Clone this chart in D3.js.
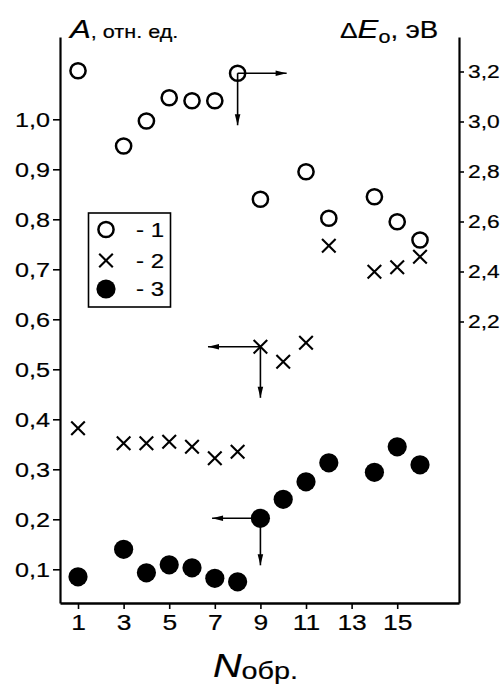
<!DOCTYPE html>
<html><head><meta charset="utf-8">
<script src="https://cdn.jsdelivr.net/npm/d3@7/dist/d3.min.js"></script>
<style>body{margin:0;background:#fff}svg{display:block}</style>
</head><body>
<script>
// ---- data ----
const xTicks = [1, 3, 5, 7, 9, 11, 13, 15];
const leftTicks = [0.1, 0.2, 0.3, 0.4, 0.5, 0.6, 0.7, 0.8, 0.9, 1.0];
const rightTicks = [2.2, 2.4, 2.6, 2.8, 3.0, 3.2];
const s1N = [1, 3, 4, 5, 6, 7, 8, 9, 11, 12, 14, 15, 16];
const s1Val = [3.203, 2.902, 3.002, 3.095, 3.083, 3.083, 3.193, 2.689, 2.799, 2.613, 2.699, 2.599, 2.526];
const s2N = [1, 3, 4, 5, 6, 7, 8, 9, 10, 11, 12, 14, 15, 16];
const s2Val = [0.382, 0.352, 0.352, 0.355, 0.345, 0.322, 0.335, 0.545, 0.515, 0.553, 0.747, 0.695, 0.704, 0.725];
const s3N = [1, 3, 4, 5, 6, 7, 8, 9, 10, 11, 12, 14, 15, 16];
const s3Val = [0.085, 0.14, 0.093, 0.109, 0.103, 0.082, 0.075, 0.202, 0.24, 0.275, 0.313, 0.294, 0.345, 0.309];
const legendLabels = ["- 1", "- 2", "- 3"];
// arrows: from point (n, v) on axis to end (n2, v2)
const arrows = [
  {axis: "R", n: 8, v: 3.193, n2: 10.15, v2: 3.193},
  {axis: "R", n: 8, v: 3.193, n2: 8, v2: 2.985},
  {axis: "L", n: 9, v: 0.545, n2: 6.7, v2: 0.545},
  {axis: "L", n: 9, v: 0.545, n2: 9, v2: 0.443},
  {axis: "L", n: 9, v: 0.202, n2: 6.88, v2: 0.202},
  {axis: "L", n: 9, v: 0.202, n2: 9, v2: 0.108}
];

const W = 503, H = 687;
const SX = 1.2; // horizontal stretch of lettering
const FONT = "'Liberation Sans', Arial, Helvetica, sans-serif";
const TSTROKE = 0.2;
const svg = d3.select("body").append("svg").attr("width", W).attr("height", H);

const x = d3.scaleLinear().domain([0.21, 17.71]).range([60, 459]);
const yL = d3.scaleLinear().domain([0.0326, 1.1646]).range([603, 37]);
const yR = d3.scaleLinear().domain([1.074, 3.338]).range([603, 37]);
const fmt = v => d3.format(".1f")(v).replace(".", ",");

function styleAxis(g, fs) {
  g.select(".domain").attr("stroke", "#000").attr("stroke-width", 2.2);
  g.selectAll(".tick line").attr("stroke", "#000").attr("stroke-width", 1.6);
  g.selectAll(".tick text").attr("fill", "#000").attr("font-family", FONT).attr("font-size", fs)
    .attr("stroke", "#000").attr("stroke-width", TSTROKE);
}

// left axis
const gL = svg.append("g").attr("transform", "translate(60,0)")
  .call(d3.axisLeft(yL).tickValues(leftTicks).tickFormat(fmt).tickSize(7).tickSizeOuter(0).tickPadding(3));
styleAxis(gL, 21);
gL.selectAll(".tick text").each(function() {
  const t = d3.select(this); const xx = +t.attr("x");
  t.attr("x", xx / SX).attr("transform", `scale(${SX},1)`);
});
// right axis
const gR = svg.append("g").attr("transform", "translate(459,0)")
  .call(d3.axisRight(yR).tickValues(rightTicks).tickFormat(fmt).tickSize(5).tickSizeOuter(0).tickPadding(4));
styleAxis(gR, 19);
gR.selectAll(".tick text").each(function() {
  const t = d3.select(this); const xx = +t.attr("x");
  t.attr("x", xx / SX).attr("transform", `scale(${SX},1)`);
});
// bottom axis
const gB = svg.append("g").attr("transform", "translate(0,603)")
  .call(d3.axisBottom(x).tickValues(xTicks).tickFormat(d3.format("d")).tickSize(6).tickSizeOuter(0).tickPadding(5));
styleAxis(gB, 22);
gB.selectAll(".tick text").attr("transform", `scale(${SX},1)`);
gB.select(".domain").attr("stroke-width", 2.6);

// markers
const circR = 7.6, dotR = 9.6, crs = 6.8;
function drawCircle(g, cx, cy) {
  g.append("circle").attr("cx", cx).attr("cy", cy).attr("r", circR)
    .attr("fill", "none").attr("stroke", "#000").attr("stroke-width", 2.5);
}
function drawCross(g, cx, cy) {
  g.append("path").attr("d", `M${cx-crs},${cy-crs}L${cx+crs},${cy+crs}M${cx-crs},${cy+crs}L${cx+crs},${cy-crs}`)
    .attr("stroke", "#000").attr("stroke-width", 2.1).attr("fill", "none");
}
function drawDot(g, cx, cy) {
  g.append("circle").attr("cx", cx).attr("cy", cy).attr("r", dotR).attr("fill", "#000");
}

// arrows
const ga = svg.append("g");
arrows.forEach(a => {
  const ys = a.axis === "R" ? yR : yL;
  const x1 = x(a.n), y1 = ys(a.v), x2 = x(a.n2), y2 = ys(a.v2);
  ga.append("line").attr("x1", x1).attr("y1", y1).attr("x2", x2).attr("y2", y2)
    .attr("stroke", "#000").attr("stroke-width", 1.6);
  const ang = Math.atan2(y2 - y1, x2 - x1);
  const L = 11, w = 2.8;
  const bx = x2 - L * Math.cos(ang), by = y2 - L * Math.sin(ang);
  const px = -Math.sin(ang) * w, py = Math.cos(ang) * w;
  ga.append("path").attr("d", `M${x2},${y2}L${bx+px},${by+py}L${bx-px},${by-py}Z`).attr("fill", "#000");
});

const gm = svg.append("g");
s1N.forEach((n, i) => drawCircle(gm, x(n), yR(s1Val[i])));
s2N.forEach((n, i) => drawCross(gm, x(n), yL(s2Val[i])));
s3N.forEach((n, i) => drawDot(gm, x(n), yL(s3Val[i])));

// legend
const lg = svg.append("g");
lg.append("rect").attr("x", 88.5).attr("y", 213).attr("width", 82).attr("height", 94)
  .attr("fill", "#fff").attr("stroke", "#000").attr("stroke-width", 1.6);
const rowsY = [229.5, 260.5, 289];
drawCircle(lg, 106, rowsY[0]);
drawCross(lg, 106, rowsY[1]);
drawDot(lg, 106, rowsY[2]);
legendLabels.forEach((t, i) => {
  lg.append("text").attr("x", 136 / SX).attr("y", rowsY[i] + 7.5).attr("transform", `scale(${SX},1)`)
    .attr("font-family", FONT).attr("font-size", 20).attr("stroke", "#000").attr("stroke-width", TSTROKE).text(t);
});

// titles
function stretchedText(xp, yp, parts) {
  const t = svg.append("text").attr("x", xp / SX).attr("y", yp).attr("transform", `scale(${SX},1)`)
    .attr("font-family", FONT).attr("fill", "#000").attr("stroke", "#000").attr("stroke-width", TSTROKE);
  parts.forEach(p => {
    const ts = t.append("tspan").attr("font-size", p.fs).text(p.t);
    if (p.it) ts.attr("font-style", "italic");
    if (p.dy) ts.attr("dy", p.dy);
  });
  return t;
}
stretchedText(70, 38, [{t: "A", fs: 26, it: true}, {t: ", отн. ед.", fs: 18}]);
stretchedText(340, 38, [{t: "Δ", fs: 22}, {t: "E", fs: 26, it: true}, {t: "o", fs: 18, dy: 5}, {t: ", эВ", fs: 23, dy: -5}]);
stretchedText(213, 677, [{t: "N", fs: 33, it: true}, {t: "обр.", fs: 24, dy: 2}]);
</script>
</body></html>
